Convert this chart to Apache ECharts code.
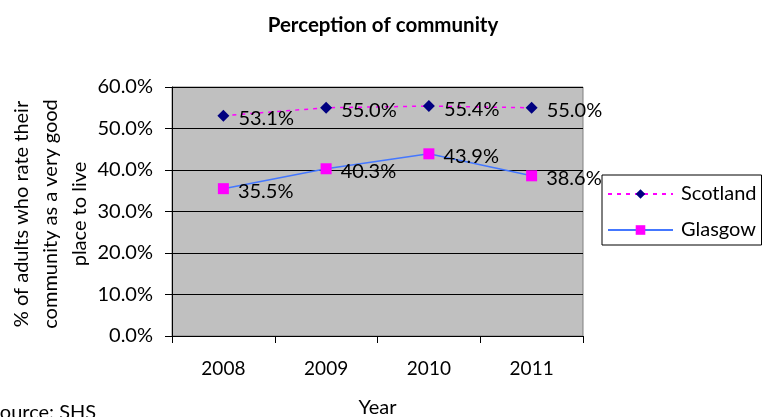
<!DOCTYPE html>
<html><head><meta charset="utf-8">
<script src="https://cdn.jsdelivr.net/npm/echarts@6/dist/echarts.min.js"></script>
<style>html,body{margin:0;padding:0;background:#fff}#c{width:766px;height:417px}</style>
</head><body><div id="c"></div>
<script>
const years = ['2008','2009','2010','2011'];
const scotland = [53.1, 55.0, 55.4, 55.0];
const glasgow = [35.5, 40.3, 43.9, 38.6];
const yNameLines = ['% of adults who rate their', 'community as a very good', 'place to live'];
const F = 'Lato, "Open Sans", sans-serif';
const chart = echarts.init(document.getElementById('c'));
const lbl = {show:true, position:'right', distance:9, offset:[0,3], color:'#000', fontSize:20, fontFamily:F,
  formatter:p=>p.value.toFixed(1)+'%'};
const nameX = [22, 51, 80];
chart.setOption({
  animation:false,
  backgroundColor:'#fff',
  title:{text:'Perception of community', left:'center', top:10,
    textStyle:{fontFamily:F, fontWeight:'bold', fontSize:20.5, color:'#000'}},
  grid:{left:172, right:183, top:87, bottom:81, show:true, backgroundColor:'#C0C0C0', borderColor:'#808080', borderWidth:1,
    outerBoundsMode:'none', containLabel:false},
  legend:{orient:'vertical', left:602, top:175, padding:[8,5,4,5], itemGap:14,
    itemWidth:65, itemHeight:12, borderColor:'#000', borderWidth:1, backgroundColor:'#fff', borderRadius:0,
    textStyle:{fontFamily:F, fontSize:20, color:'#000', lineHeight:22, padding:[0,0,0,3]},
    data:['Scotland','Glasgow']},
  xAxis:{type:'category', data:years, boundaryGap:true,
    name:'Year', nameLocation:'middle', nameGap:62,
    nameTextStyle:{fontFamily:F, fontSize:20, color:'#000'},
    axisLine:{lineStyle:{color:'#000'}},
    axisTick:{show:true, length:7, lineStyle:{color:'#000'}},
    axisLabel:{fontFamily:F, fontSize:19, color:'#000', margin:23}},
  yAxis:{type:'value', min:0, max:60, interval:10,
    axisLine:{show:true, lineStyle:{color:'#000'}},
    axisTick:{show:true, length:7, lineStyle:{color:'#000'}},
    axisLabel:{fontFamily:F, fontSize:20, color:'#000', margin:19, formatter:v=>v.toFixed(1)+'%'},
    splitLine:{lineStyle:{color:'#000', width:1}}},
  graphic:[
    {type:'text', left:-11, top:403, style:{text:'Source: SHS', fontFamily:F, fontSize:20, fill:'#000'}}
  ].concat(yNameLines.map((t,i)=>({type:'text', x:nameX[i], y:214, rotation:Math.PI/2,
    style:{text:t, fontFamily:F, fontSize:20, fill:'#000', align:'center', verticalAlign:'middle'}}))),
  series:[
    {name:'Scotland', type:'line', data:scotland, symbol:'diamond', symbolSize:12,
      itemStyle:{color:'#000080'}, lineStyle:{color:'#FF00FF', type:[4,5], width:1.5},
      label:lbl},
    {name:'Glasgow', type:'line', data:glasgow, symbol:'rect', symbolSize:11,
      itemStyle:{color:'#FF00FF'}, lineStyle:{color:'#4477FF', width:1.5},
      label:lbl}
  ]
});
</script></body></html>
